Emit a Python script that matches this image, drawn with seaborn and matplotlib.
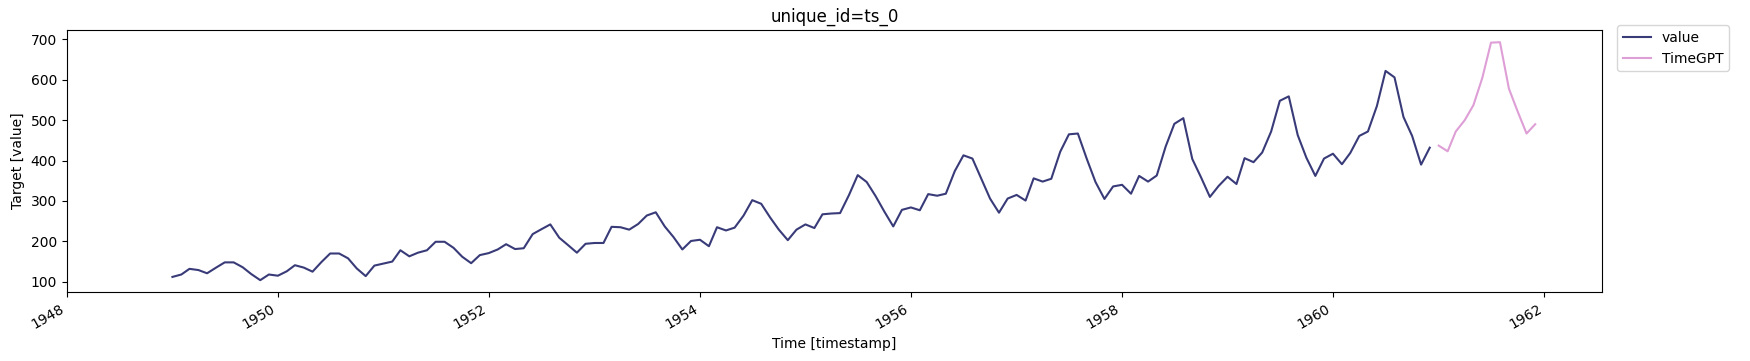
import numpy as np
import pandas as pd
import matplotlib
matplotlib.use("Agg")
import matplotlib.pyplot as plt
import seaborn as sns

# Historical values (monthly, 1949-01 .. 1960-12)
value_dates = pd.date_range("1949-01-01", "1960-12-01", freq="MS")
values = [
    112, 118, 132, 129, 121, 135, 148, 148, 136, 119, 104, 118,
    115, 126, 141, 135, 125, 149, 170, 170, 158, 133, 114, 140,
    145, 150, 178, 163, 172, 178, 199, 199, 184, 162, 146, 166,
    171, 180, 193, 181, 183, 218, 230, 242, 209, 191, 172, 194,
    196, 196, 236, 235, 229, 243, 264, 272, 237, 211, 180, 201,
    204, 188, 235, 227, 234, 264, 302, 293, 259, 229, 203, 229,
    242, 233, 267, 269, 270, 315, 364, 347, 312, 274, 237, 278,
    284, 277, 317, 313, 318, 374, 413, 405, 355, 306, 271, 306,
    315, 301, 356, 348, 355, 422, 465, 467, 404, 347, 305, 336,
    340, 318, 362, 348, 363, 435, 491, 505, 404, 359, 310, 337,
    360, 342, 406, 396, 420, 472, 548, 559, 463, 407, 362, 405,
    417, 391, 419, 461, 472, 535, 622, 606, 508, 461, 390, 432,
]

# TimeGPT forecast (monthly, 1961-01 .. 1961-12)
fc_dates = pd.date_range("1961-01-01", "1961-12-01", freq="MS")
fc_values = [437, 423, 472, 500, 537, 605, 692, 693, 578, 522, 467, 490]

df = pd.concat([
    pd.DataFrame({"ds": value_dates, "y": values, "series": "value"}),
    pd.DataFrame({"ds": fc_dates, "y": fc_values, "series": "TimeGPT"}),
])

plt.rcParams["font.family"] = ["DejaVu Sans"]

fig = plt.figure(figsize=(17.5, 3.61), dpi=100)
ax = fig.add_axes([0.0381, 0.191, 0.9154 - 0.0381, 0.916 - 0.191])

sns.lineplot(data=df, x="ds", y="y", hue="series",
             palette={"value": "#393b79", "TimeGPT": "#de9ed6"},
             ax=ax, linewidth=1.5)

ax.set_xlim(pd.Timestamp("1948-01-01"), pd.Timestamp("1962-07-20"))
ax.set_title("unique_id=ts_0")
ax.set_xlabel("Time [timestamp]")
ax.set_ylabel("Target [value]")
ax.set_yticks([100, 200, 300, 400, 500, 600, 700])
for lbl in ax.get_xticklabels():
    lbl.set_rotation(30)
    lbl.set_ha("right")

handles, labels = ax.get_legend_handles_labels()
ax.legend(handles, labels, loc="upper left", bbox_to_anchor=(1.01, 1.02),
          borderaxespad=0, title=None)

fig.savefig("out.png", dpi=100)
